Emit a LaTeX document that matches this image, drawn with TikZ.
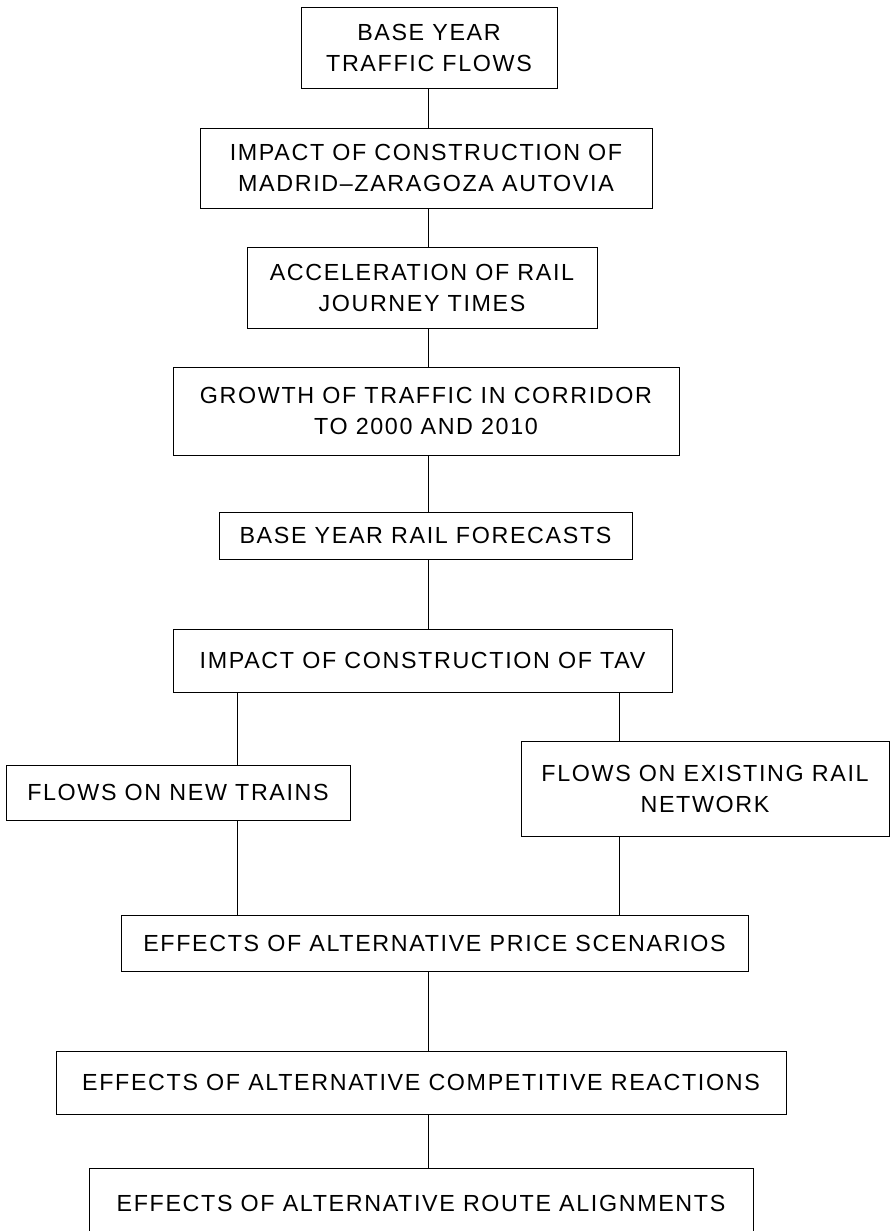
\documentclass[tikz,border=0pt]{standalone}
\usepackage{fontspec}
\setmainfont{Liberation Sans}[LetterSpace=7]
\tikzset{
  box/.style={draw, inner sep=0pt, align=center},
}
\begin{document}
\begin{tikzpicture}[x=1pt, y=-1pt, line width=0.9pt, line cap=round, font={\fontsize{23.3}{31}\selectfont}]
  \useasboundingbox (0,0) rectangle (893,1231);
  % connector lines
  \coordinate (mid) at (428,0);
  \coordinate (lft) at (237,0);
  \coordinate (rgt) at (619,0);
  % boxes
  \node[box, minimum width=256pt, minimum height=81pt] (flows) at (429,47.5) {BASE YEAR\\TRAFFIC FLOWS};
  \node[box, minimum width=452pt, minimum height=80pt] (autovia) at (426,168) {IMPACT OF CONSTRUCTION OF\\MADRID--ZARAGOZA AUTOVIA};
  \node[box, minimum width=350pt, minimum height=81pt] (accel) at (422,287.5) {ACCELERATION OF RAIL\\JOURNEY TIMES};
  \node[box, minimum width=506pt, minimum height=88pt] (growth) at (426,411) {GROWTH OF TRAFFIC IN CORRIDOR\\TO 2000 AND 2010};
  \node[box, minimum width=413pt, minimum height=47pt] (fcast) at (425.5,535.5) {BASE YEAR RAIL FORECASTS};
  \node[box, minimum width=499pt, minimum height=63pt] (tav) at (422.5,660.5) {IMPACT OF CONSTRUCTION OF TAV};
  \node[box, minimum width=344pt, minimum height=55pt] (newtr) at (178,792.5) {FLOWS ON NEW TRAINS};
  \node[box, minimum width=368pt, minimum height=95pt] (exist) at (705,788.5) {FLOWS ON EXISTING RAIL\\NETWORK};
  \node[box, minimum width=627pt, minimum height=56pt] (price) at (434.5,943) {EFFECTS OF ALTERNATIVE PRICE SCENARIOS};
  \node[box, minimum width=730pt, minimum height=63pt] (react) at (421,1082.5) {EFFECTS OF ALTERNATIVE COMPETITIVE REACTIONS};
  \node[box, minimum width=664pt, minimum height=70pt] (route) at (421,1203) {EFFECTS OF ALTERNATIVE ROUTE ALIGNMENTS};
  % links
  \draw (flows.south -| mid) -- (autovia.north -| mid);
  \draw (autovia.south -| mid) -- (accel.north -| mid);
  \draw (accel.south -| mid) -- (growth.north -| mid);
  \draw (growth.south -| mid) -- (fcast.north -| mid);
  \draw (fcast.south -| mid) -- (tav.north -| mid);
  \draw (tav.south -| lft) -- (newtr.north -| lft);
  \draw (tav.south -| rgt) -- (exist.north -| rgt);
  \draw (newtr.south -| lft) -- (price.north -| lft);
  \draw (exist.south -| rgt) -- (price.north -| rgt);
  \draw (price.south -| mid) -- (react.north -| mid);
  \draw (react.south -| mid) -- (route.north -| mid);
\end{tikzpicture}
\end{document}
